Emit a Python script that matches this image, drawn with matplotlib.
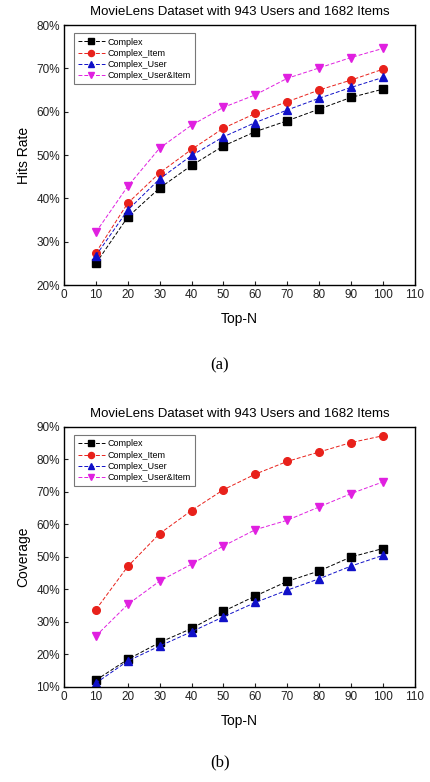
import matplotlib
matplotlib.use("Agg")
import matplotlib.pyplot as plt
from matplotlib.ticker import FuncFormatter, MultipleLocator

plt.rcParams['font.family'] = ['Liberation Sans', 'DejaVu Sans']

top_n = [10, 20, 30, 40, 50, 60, 70, 80, 90, 100]
series_names = ["Complex", "Complex_Item", "Complex_User", "Complex_User&Item"]

hits_complex = [25.0, 35.7, 42.4, 47.6, 52.1, 55.4, 57.9, 60.6, 63.3, 65.2]
hits_item = [27.5, 38.9, 45.9, 51.3, 56.2, 59.6, 62.3, 65.0, 67.3, 69.8]
hits_user = [26.8, 37.3, 44.5, 49.9, 54.2, 57.5, 60.4, 63.1, 65.6, 67.9]
hits_useritem = [32.2, 42.8, 51.6, 56.9, 61.0, 63.9, 67.7, 70.1, 72.5, 74.6]

cov_complex = [12.1, 18.5, 23.7, 28.0, 33.3, 38.0, 42.5, 45.7, 50.0, 52.6]
cov_item = [33.8, 47.1, 57.2, 64.3, 70.7, 75.5, 79.4, 82.3, 85.2, 87.3]
cov_user = [11.2, 18.0, 22.6, 27.0, 31.6, 36.0, 39.8, 43.3, 47.2, 50.5]
cov_useritem = [25.7, 35.4, 42.6, 47.8, 53.4, 58.4, 61.3, 65.4, 69.5, 73.1]

colors = ["black", "#e8211b", "#1010c8", "#e020e0"]
markers = ["s", "o", "^", "v"]
captions = ["(a)", "(b)"]

fig = plt.figure(figsize=(4.31, 7.82), dpi=100)

def draw(ax, data, ylabel, ymin, ymax, caption, cap_y):
    for name, vals, c, m in zip(series_names, data, colors, markers):
        ax.plot(top_n, vals, color=c, marker=m, markersize=5.5, lw=0.7,
                linestyle=(0, (4, 2)), label=name)
    ax.set_xlim(0, 110)
    ax.set_ylim(ymin, ymax)
    ax.xaxis.set_major_locator(MultipleLocator(10))
    ax.yaxis.set_major_locator(MultipleLocator(10))
    ax.yaxis.set_major_formatter(FuncFormatter(lambda v, p: f"{v:.0f}%"))
    ax.tick_params(direction='in', length=3, labelsize=8.5, colors='#222222', pad=3)
    for s in ax.spines.values():
        s.set_linewidth(1.0)
    ax.set_xlabel("Top-N", fontsize=10, labelpad=8)
    ax.set_ylabel(ylabel, fontsize=10, labelpad=4)
    ax.set_title("MovieLens Dataset with 943 Users and 1682 Items", fontsize=9.5, pad=7)
    leg = ax.legend(loc='upper left', fontsize=6.5, frameon=True, fancybox=False,
                    edgecolor='#555555', handlelength=3, handletextpad=0.3,
                    borderpad=0.45, labelspacing=0.25, markerscale=0.8,
                    bbox_to_anchor=(0.015, 0.985))
    leg.get_frame().set_linewidth(0.8)
    fig.text(220 / 431, cap_y, caption,
             ha='center', va='center', fontsize=12, family='Liberation Serif')

ax1 = fig.add_axes([0.1485, 0.6355, 0.814, 0.3325])
draw(ax1, [hits_complex, hits_item, hits_user, hits_useritem], "Hits Rate", 20, 80,
     captions[0], 1 - 365 / 782)

ax2 = fig.add_axes([0.1485, 0.1215, 0.814, 0.3325])
draw(ax2, [cov_complex, cov_item, cov_user, cov_useritem], "Coverage", 10, 90,
     captions[1], 1 - 762 / 782)

fig.savefig("out.png", dpi=100)
